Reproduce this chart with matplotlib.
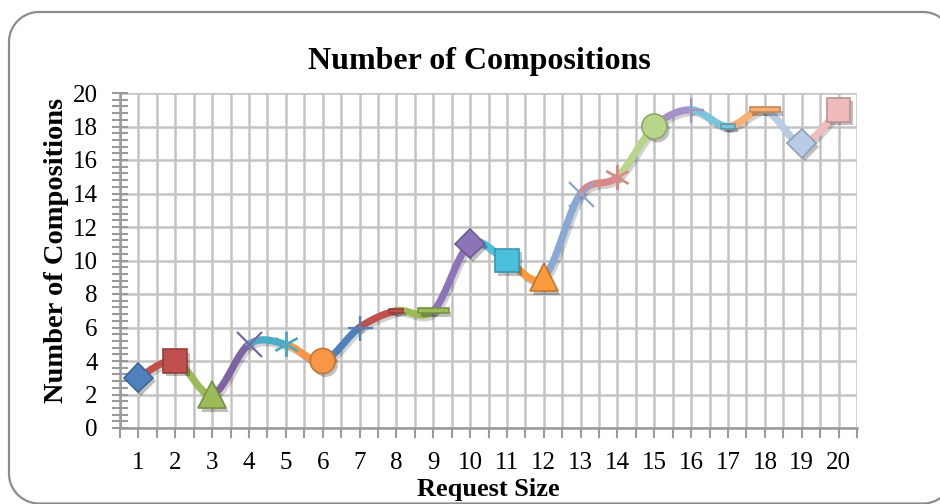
import numpy as np
import matplotlib.pyplot as plt
import matplotlib.patheffects as pe
from matplotlib.patches import PathPatch
from matplotlib.path import Path
from matplotlib.transforms import IdentityTransform
from matplotlib.ticker import MultipleLocator
from matplotlib.colors import to_rgb

plt.rcParams['font.family'] = ['Liberation Serif', 'DejaVu Serif']

request_size = list(range(1, 21))
compositions = [3, 4, 2, 5, 5, 4, 6, 7, 7, 11, 10, 9, 14, 15, 18, 19, 18, 19, 17, 19]

# office-style "vary colors by point" palette
point_colors = ['#4F81BD', '#C0504D', '#9BBB59', '#8064A2', '#4BACC6', '#F79646',
                '#4F81BD', '#C0504D', '#9BBB59', '#8D74B8', '#4BC0DC', '#F99A3E',
                '#8AA8D4', '#D78A88', '#B7D68A', '#A590C8', '#7CC4D8', '#FAB074',
                '#B9CCE6', '#EFBCBB']

short_dash = [(-1, -0.3), (1, -0.3), (1, 0.3), (-1, 0.3), (-1, -0.3)]
long_dash = [(-1, -0.15), (1, -0.15), (1, 0.15), (-1, 0.15), (-1, -0.15)]
asterisk = (6, 2, 0)
point_markers = ['D', 's', '^', 'x', asterisk, 'o', '+', short_dash, long_dash, 'D',
                 's', '^', 'x', asterisk, 'o', '+', short_dash, long_dash, 'D', 's']
marker_sizes = [15, 17, 20, 18, 18, 18, 18, 10, 22, 15,
                17, 20, 18, 18, 18, 18, 10, 22, 15, 17]
line_markers = ('x', '+', asterisk)


def darker(c, f=0.78):
    return tuple(v * f for v in to_rgb(c))


def smooth_segment(x, y, i, n=40):
    # bezier between point i and i+1, catmull-rom style control points
    last = len(x) - 1
    p0 = np.array([x[max(i - 1, 0)], y[max(i - 1, 0)]], float)
    p1 = np.array([x[i], y[i]], float)
    p2 = np.array([x[i + 1], y[i + 1]], float)
    p3 = np.array([x[min(i + 2, last)], y[min(i + 2, last)]], float)
    c1 = p1 + (p2 - p0) / 6.0
    c2 = p2 - (p3 - p1) / 6.0
    t = np.linspace(0, 1, n)[:, None]
    pts = ((1 - t) ** 3) * p1 + 3 * ((1 - t) ** 2) * t * c1 + 3 * (1 - t) * t ** 2 * c2 + t ** 3 * p2
    return pts[:, 0], pts[:, 1]


def rounded_rect(x0, y0, x1, y1, r):
    # closed outline in pixel units, corners as quarter arcs
    pts = []
    for cx, cy, a0 in ((x1 - r, y1 - r, 0), (x0 + r, y1 - r, 90),
                       (x0 + r, y0 + r, 180), (x1 - r, y0 + r, 270)):
        a = np.radians(np.linspace(a0, a0 + 90, 20))
        pts.extend(zip(cx + r * np.cos(a), cy + r * np.sin(a)))
    pts.append(pts[0])
    return Path(pts)


fig = plt.figure(figsize=(9.4, 5.04), dpi=100)
W, H = 940, 504

frame = PathPatch(rounded_rect(9, 0.5, 953, 492, 30), transform=IdentityTransform(),
                  facecolor='none', edgecolor='#8C8C8C', linewidth=1.6, zorder=0)
fig.patches.append(frame)

ax = fig.add_axes([120 / W, (H - 428) / H, (857 - 120) / W, (428 - 93) / H])
ax.set_facecolor('none')

shadow = [pe.SimpleLineShadow(offset=(1.5, -2), alpha=0.18, shadow_color='black'), pe.Normal()]

for i in range(len(request_size) - 1):
    sx, sy = smooth_segment(request_size, compositions, i)
    ax.plot(sx, sy, color=point_colors[i + 1], lw=5.2, solid_capstyle='round',
            zorder=3, path_effects=shadow)

mshadow = [pe.SimplePatchShadow(offset=(2, -2.5), alpha=0.25, shadow_rgbFace='black'), pe.Normal()]
for x, y, c, m, ms in zip(request_size, compositions, point_colors, point_markers, marker_sizes):
    if isinstance(m, (str, tuple)) and m in line_markers:
        ax.plot(x, y, marker=m, ms=ms, mew=1.6, color=c, ls='none', zorder=5)
    else:
        ax.plot(x, y, marker=m, ms=ms, mfc=c, mec=darker(c), mew=1.2, ls='none',
                zorder=5, path_effects=mshadow)

ax.set_xlim(0.5, 20.5)
ax.set_ylim(0, 20)
ax.set_xticks(request_size)
ax.set_xticklabels([str(v) for v in request_size])
ax.set_xticks(np.arange(0.5, 21, 1.0), minor=True)
ax.yaxis.set_major_locator(MultipleLocator(2))
ax.yaxis.set_minor_locator(MultipleLocator(0.4))

grid_c = '#C4C4C4'
ax.grid(which='major', axis='both', color=grid_c, lw=1.8, zorder=1)
ax.grid(which='minor', axis='x', color=grid_c, lw=1.8, zorder=1)
ax.set_axisbelow(True)

for s in ('top', 'right'):
    ax.spines[s].set_visible(False)
for s in ('left', 'bottom'):
    ax.spines[s].set_color('#9A9A9A')
    ax.spines[s].set_linewidth(1.8)

ax.tick_params(axis='x', which='both', direction='out', length=7, width=1.5,
               color='#9A9A9A', labelsize=18, pad=10)
ax.tick_params(axis='y', which='both', direction='inout', length=12, width=1.5,
               color='#9A9A9A', labelsize=18, pad=10)

fig.text(479 / W, (H - 62) / H, 'Number of Compositions', fontsize=23,
         fontweight='bold', ha='center', va='center')
ax.set_xlabel('Request Size', fontsize=19, fontweight='bold', labelpad=3)
ax.set_ylabel('Number of Compositions', fontsize=20.5, fontweight='bold')
ax.yaxis.set_label_coords((69 - 120) / 737, (428 - 250) / 335)

fig.savefig('out.png', dpi=100)
